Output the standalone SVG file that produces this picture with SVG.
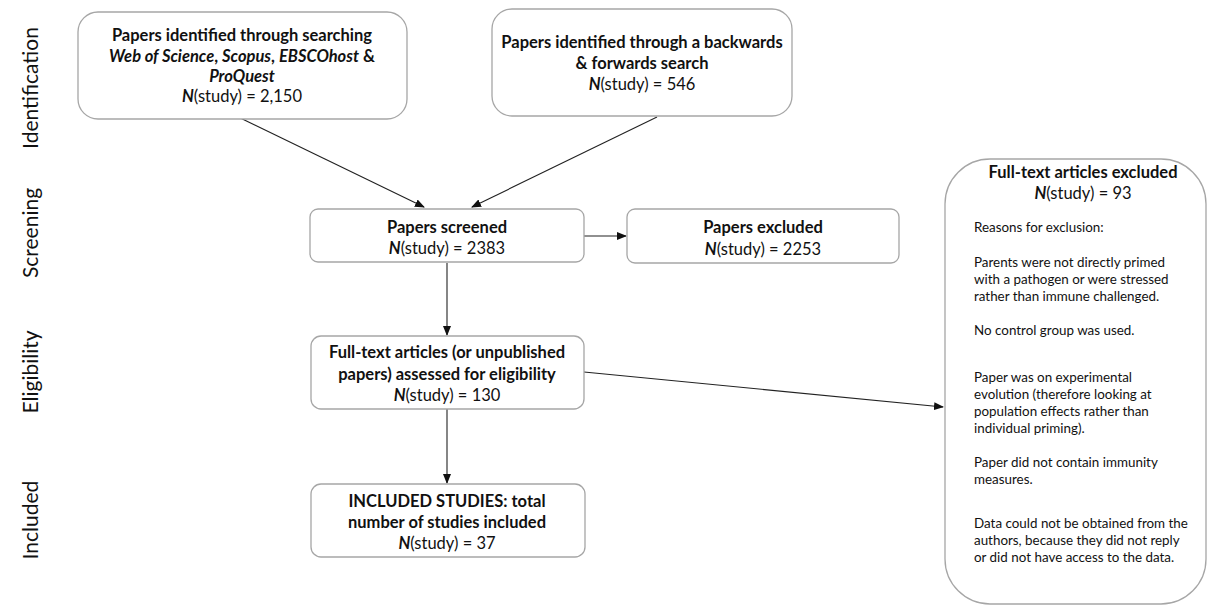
<svg xmlns="http://www.w3.org/2000/svg" width="1208" height="607" viewBox="0 0 1208 607">
<style>
.box{fill:#fff;stroke:#a6a6a6;stroke-width:1.3}
.t{font-family:Lato,"Liberation Sans",sans-serif;font-size:16.5px;fill:#111;text-anchor:middle}
.b{font-weight:bold}
.i{font-style:italic;font-weight:bold}
.lab{font-family:Lato,"Liberation Sans",sans-serif;font-size:21px;fill:#111;text-anchor:middle}
.r{font-family:Lato,"Liberation Sans",sans-serif;font-size:13.4px;fill:#111}
.c{fill:none;stroke:#222;stroke-width:1.1}
</style>
<defs>
<marker id="ah" markerWidth="10" markerHeight="8" refX="9" refY="4" orient="auto" markerUnits="userSpaceOnUse">
<path d="M0,0 L10,4 L0,8 Z" fill="#111"/>
</marker>
</defs>
<rect width="1208" height="607" fill="#fff"/>
<g id="stage-labels">
<text class="lab" transform="translate(38,88) rotate(-90)">Identification</text>
<text class="lab" transform="translate(38,233) rotate(-90)">Screening</text>
<text class="lab" transform="translate(38,372) rotate(-90)">Eligibility</text>
<text class="lab" transform="translate(38,520) rotate(-90)">Included</text>
</g>
<g id="connectors">
<line class="c" x1="230" y1="113" x2="424" y2="207" marker-end="url(#ah)"/>
<line class="c" x1="657" y1="117" x2="472" y2="207" marker-end="url(#ah)"/>
<line class="c" x1="584" y1="236" x2="626" y2="236" marker-end="url(#ah)"/>
<line class="c" x1="447" y1="263" x2="447" y2="335" marker-end="url(#ah)"/>
<line class="c" x1="584" y1="372" x2="943" y2="407" marker-end="url(#ah)"/>
<line class="c" x1="447" y1="409" x2="447" y2="483" marker-end="url(#ah)"/>
</g>
<g id="node-database-search">
<rect class="box" x="78" y="12" width="329" height="107" rx="20"/>
<text class="t b" x="242" y="41">Papers identified through searching</text>
<text class="t" x="242" y="62"><tspan class="i">Web of Science</tspan><tspan class="b">, </tspan><tspan class="i">Scopus</tspan><tspan class="b">, </tspan><tspan class="i">EBSCOhost</tspan><tspan class="b"> &amp;</tspan></text>
<text class="t i" x="242" y="82">ProQuest</text>
<text class="t" x="242" y="102"><tspan class="i">N</tspan>(study) = 2,150</text>
</g>
<g id="node-backward-forward">
<rect class="box" x="492" y="9" width="300" height="107" rx="20"/>
<text class="t b" x="642" y="48">Papers identified through a backwards</text>
<text class="t b" x="642" y="69">&amp; forwards search</text>
<text class="t" x="642" y="90"><tspan class="i">N</tspan>(study) = 546</text>
</g>
<g id="node-screened">
<rect class="box" x="310" y="209" width="274" height="53" rx="8"/>
<text class="t b" x="447" y="233">Papers screened</text>
<text class="t" x="447" y="254"><tspan class="i">N</tspan>(study) = 2383</text>
</g>
<g id="node-excluded">
<rect class="box" x="627" y="209" width="272" height="54" rx="8"/>
<text class="t b" x="763" y="233">Papers excluded</text>
<text class="t" x="763" y="255"><tspan class="i">N</tspan>(study) = 2253</text>
</g>
<g id="node-eligibility">
<rect class="box" x="311" y="336" width="273" height="73" rx="10"/>
<text class="t b" x="447" y="358">Full-text articles (or unpublished</text>
<text class="t b" x="447" y="380">papers) assessed for eligibility</text>
<text class="t" x="447" y="401"><tspan class="i">N</tspan>(study) = 130</text>
</g>
<g id="node-included">
<rect class="box" x="311" y="484" width="274" height="73" rx="10"/>
<text class="t b" x="447" y="507">INCLUDED STUDIES: total</text>
<text class="t b" x="447" y="528">number of studies included</text>
<text class="t" x="447" y="549"><tspan class="i">N</tspan>(study) = 37</text>
</g>
<g id="node-fulltext-excluded">
<rect class="box" x="945" y="159" width="261" height="445" rx="45"/>
<text class="t b" x="1083" y="178">Full-text articles excluded</text>
<text class="t" x="1083" y="199"><tspan class="i">N</tspan>(study) = 93</text>
<text class="r" x="974" y="232">Reasons for exclusion:</text>
<text class="r" x="974" y="267">Parents were not directly primed</text>
<text class="r" x="974" y="284">with a pathogen or were stressed</text>
<text class="r" x="974" y="301">rather than immune challenged.</text>
<text class="r" x="974" y="335">No control group was used.</text>
<text class="r" x="974" y="382">Paper was on experimental</text>
<text class="r" x="974" y="399">evolution (therefore looking at</text>
<text class="r" x="974" y="416">population effects rather than</text>
<text class="r" x="974" y="433">individual priming).</text>
<text class="r" x="974" y="467">Paper did not contain immunity</text>
<text class="r" x="974" y="484">measures.</text>
<text class="r" x="974" y="528">Data could not be obtained from the</text>
<text class="r" x="974" y="545">authors, because they did not reply</text>
<text class="r" x="974" y="562">or did not have access to the data.</text>
</g>
</svg>
